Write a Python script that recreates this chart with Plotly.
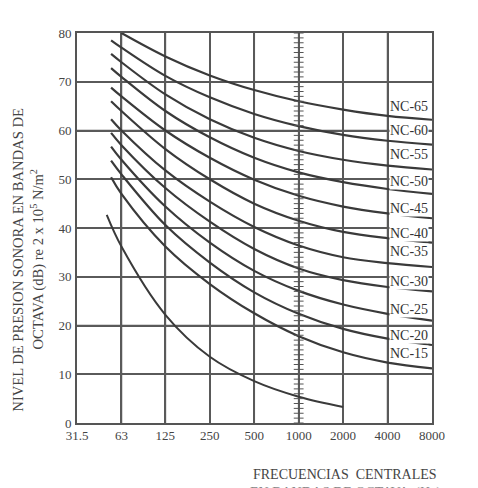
import math
import plotly.graph_objects as go

# ---------------- data ----------------
freq_ticks = [31.5, 63, 125, 250, 500, 1000, 2000, 4000, 8000]
freq_tick_labels = ["31.5", "63", "125", "250", "500", "1000", "2000", "4000", "8000"]
db_ticks = [0, 10, 20, 30, 40, 50, 60, 70, 80]

bands = [53.6, 63, 125, 250, 500, 1000, 2000, 4000, 8000]

nc_names = ["NC-65", "NC-60", "NC-55", "NC-50", "NC-45", "NC-40",
            "NC-35", "NC-30", "NC-25", "NC-20", "NC-15"]
nc_values = {
    "NC-65": [None, 80.0, 75.2, 71.3, 68.3, 66.0, 64.3, 63.0, 62.2],
    "NC-60": [78.5, 77.0, 71.2, 66.8, 63.4, 60.9, 59.1, 57.9, 57.1],
    "NC-55": [75.7, 74.0, 67.4, 62.3, 58.5, 55.8, 54.0, 52.8, 52.0],
    "NC-50": [72.8, 71.0, 64.0, 58.6, 54.4, 51.4, 49.4, 48.0, 47.0],
    "NC-45": [68.8, 67.0, 60.0, 54.4, 49.9, 46.6, 44.4, 43.0, 42.0],
    "NC-40": [66.0, 64.0, 56.2, 50.0, 45.0, 41.5, 39.2, 37.9, 37.0],
    "NC-35": [62.3, 60.0, 51.8, 45.4, 40.2, 36.4, 34.0, 32.8, 32.0],
    "NC-30": [59.5, 57.0, 48.2, 41.3, 35.7, 31.7, 29.3, 27.9, 27.0],
    "NC-25": [56.7, 54.0, 44.4, 37.0, 31.2, 27.1, 24.3, 22.4, 21.0],
    "NC-20": [53.8, 51.0, 40.6, 32.9, 26.8, 22.4, 19.3, 17.3, 16.0],
    "NC-15": [50.4, 47.0, 36.2, 28.5, 22.5, 17.8, 14.5, 12.4, 11.2],
}
nc_label_levels = [64.9, 59.9, 55.0, 49.5, 44.0, 38.9, 35.1, 29.0, 23.2, 18.0, 14.3]

threshold_freq = [50.1, 63, 125, 250, 500, 1000, 2000]
threshold_db = [42.7, 36.2, 22.2, 13.6, 8.6, 5.4, 3.3]

ruler_db = list(range(0, 81))

# ---------------- style ----------------
SERIF = "Liberation Serif, Times New Roman, serif"
CURVE = "#3a3a3a"
GRID = "#5a5a5a"
TXT = "#444444"

fig = go.Figure()

# grid lines built from the tick arrays (one trace per line)
for f in freq_ticks[1:-1]:
    fig.add_trace(go.Scatter(x=[f, f], y=[db_ticks[0], db_ticks[-1]], mode="lines",
                             line=dict(color=GRID, width=1.6),
                             showlegend=False, hoverinfo="skip"))
for d in db_ticks[1:-1]:
    fig.add_trace(go.Scatter(x=[freq_ticks[0], freq_ticks[-1]], y=[d, d], mode="lines",
                             line=dict(color=GRID, width=1.6),
                             showlegend=False, hoverinfo="skip"))

for name in nc_names:
    xs, ys = [], []
    for f, v in zip(bands, nc_values[name]):
        if v is not None:
            xs.append(f)
            ys.append(v)
    fig.add_trace(go.Scatter(x=xs, y=ys, mode="lines", name=name,
                             line=dict(color=CURVE, width=2.2, shape="spline", smoothing=1.0),
                             showlegend=False, hoverinfo="skip"))

fig.add_trace(go.Scatter(x=threshold_freq, y=threshold_db, mode="lines",
                         line=dict(color=CURVE, width=2.0, shape="spline", smoothing=1.0),
                         showlegend=False, hoverinfo="skip"))

# ruler ticks on the left axis and on the 1000 Hz line
for fx in (freq_ticks[0], 1000):
    fig.add_trace(go.Scatter(x=[fx] * len(ruler_db), y=ruler_db, mode="markers",
                             marker=dict(symbol="line-ew", size=7,
                                         line=dict(color="#555555", width=1)),
                             cliponaxis=False, showlegend=False, hoverinfo="skip"))

ann = []
for name, lvl in zip(nc_names, nc_label_levels):
    ann.append(dict(x=math.log10(4000), y=lvl, xref="x", yref="y", text=name,
                    showarrow=False, xanchor="left", yanchor="middle", xshift=1,
                    font=dict(family=SERIF, size=14, color="#333333"),
                    bgcolor="white", borderpad=0))

# axis titles
ann.append(dict(x=-0.165, y=0.42, xref="paper", yref="paper",
                text="NIVEL DE PRESION SONORA EN BANDAS DE", textangle=-90,
                showarrow=False, xanchor="center", yanchor="middle",
                font=dict(family=SERIF, size=14.6, color=TXT)))
ann.append(dict(x=-0.112, y=0.42, xref="paper", yref="paper",
                text="OCTAVA (dB) re 2 x 10<sup>5</sup> N/m<sup>2</sup>", textangle=-90,
                showarrow=False, xanchor="center", yanchor="middle",
                font=dict(family=SERIF, size=14.6, color=TXT)))
ann.append(dict(x=0.755, y=-0.133, xref="paper", yref="paper",
                text="FRECUENCIAS  CENTRALES", showarrow=False,
                xanchor="center", yanchor="middle",
                font=dict(family=SERIF, size=14, color=TXT)))
ann.append(dict(x=0.755, y=-0.18, xref="paper", yref="paper",
                text="EN BANDAS DE OCTAVA  (Hz)", showarrow=False,
                xanchor="center", yanchor="middle",
                font=dict(family=SERIF, size=14, color="#888888")))

fig.update_layout(
    template="none",
    width=478, height=488,
    margin=dict(l=77, r=46, t=33, b=65),
    paper_bgcolor="white", plot_bgcolor="white",
    annotations=ann,
    xaxis=dict(type="log", range=[math.log10(31.5), math.log10(8000)],
               tickmode="array", tickvals=freq_ticks, ticktext=freq_tick_labels,
               showgrid=True, gridcolor=GRID, gridwidth=1.6,
               showline=True, mirror=True, linecolor="#555555", linewidth=1.6,
               ticks="", zeroline=False,
               tickfont=dict(family=SERIF, size=13, color=TXT)),
    yaxis=dict(range=[0, 80], tickmode="array", tickvals=db_ticks,
               showgrid=True, gridcolor=GRID, gridwidth=1.6,
               showline=True, mirror=True, linecolor="#555555", linewidth=1.6,
               ticks="", zeroline=False, ticklabelstandoff=1,
               tickfont=dict(family=SERIF, size=13, color=TXT)),
)

fig.write_html("out.html")
